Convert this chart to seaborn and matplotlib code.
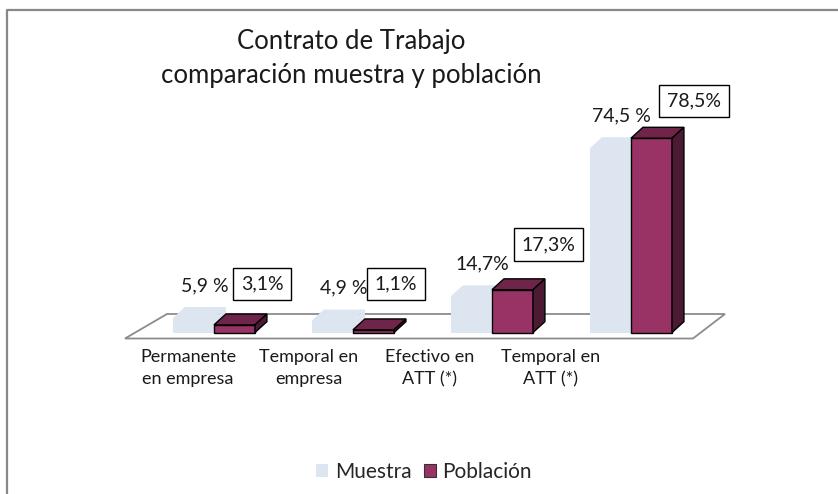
import matplotlib
matplotlib.use("Agg")
import matplotlib.pyplot as plt
import seaborn as sns
import pandas as pd
from matplotlib.patches import Polygon, Rectangle
from matplotlib.lines import Line2D

# datos
categorias = ["Permanente\nen empresa", "Temporal en\nempresa", "Efectivo en\nATT (*)", "Temporal en\nATT (*)"]
series = ["Muestra", "Población"]
muestra = [5.9, 4.9, 14.7, 74.5]
poblacion = [3.1, 1.1, 17.3, 78.5]
etiquetas_muestra = ["5,9 %", "4,9 %", "14,7%", "74,5 %"]
etiquetas_poblacion = ["3,1%", "1,1%", "17,3%", "78,5%"]

df = pd.DataFrame({
    "categoria": categorias * 2,
    "serie": [series[0]] * 4 + [series[1]] * 4,
    "valor": muestra + poblacion,
})

c_muestra = "#dde5f1"
c_pobl = "#993366"
c_pobl_top = "#6f2449"
c_pobl_side = "#4b1a33"

sns.set_style("white")
plt.rcParams["font.family"] = ["Lato", "DejaVu Sans"]

fig = plt.figure(figsize=(8.38, 4.94), dpi=100)
ax = fig.add_axes([0.1193, 0.313, 0.7637, 0.515])

sns.barplot(
    data=df, x="categoria", y="valor", hue="serie",
    order=categorias, hue_order=series,
    palette=[c_muestra, c_pobl], width=0.59,
    saturation=1, legend=False, ax=ax,
)

ax.set_xlim(-0.82, 3.784)
ax.set_ylim(-2.75, 100)

# efecto 3D
dx, dy = 0.086, 4.4
barras = list(ax.patches)
for i, p in enumerate(barras):
    x, w, h = p.get_x(), p.get_width(), p.get_height()
    top = [(x, h), (x + w, h), (x + w + dx, h + dy), (x + dx, h + dy)]
    side = [(x + w, 0), (x + w + dx, dy), (x + w + dx, h + dy), (x + w, h)]
    if i < 4:
        p.set_zorder(2)
        p.set_edgecolor("none")
        ax.add_patch(Polygon(top, closed=True, fc=c_muestra, ec="none", zorder=2))
        ax.add_patch(Polygon(side, closed=True, fc=c_muestra, ec="none", zorder=2))
    else:
        p.set_zorder(3)
        p.set_edgecolor("black")
        p.set_linewidth(1)
        ax.add_patch(Polygon(top, closed=True, fc=c_pobl_top, ec="black", lw=1, zorder=3))
        ax.add_patch(Polygon(side, closed=True, fc=c_pobl_side, ec="black", lw=1, zorder=3))

# suelo
suelo = [(-0.64, -2.4), (3.446, -2.4), (3.676, 7.5), (-0.338, 7.5)]
ax.add_patch(Polygon(suelo, closed=True, fc="white", ec="#8c8c8c", lw=1.3, zorder=1, clip_on=False))

# etiquetas
desplaz_x = [0.2, 0.16, 0.26, 0.306]
desplaz_y = [16.6, 18.6, 18.2, 15.0]
for i in range(4):
    pm = barras[i]
    ax.text(pm.get_x() + pm.get_width() / 2 + 0.08, muestra[i] + 13, etiquetas_muestra[i],
            ha="center", va="center", fontsize=14, color="#1a1a1a", zorder=5)
    pp = barras[i + 4]
    ax.text(pp.get_x() + pp.get_width() / 2 + desplaz_x[i], poblacion[i] + desplaz_y[i],
            etiquetas_poblacion[i], ha="center", va="center", fontsize=14, color="#1a1a1a", zorder=5,
            bbox=dict(boxstyle="square,pad=0.4", fc="white", ec="black", lw=1))

ax.set_xticks([-0.187 + 0.870 * i for i in range(4)])
ax.set_xticklabels(categorias, fontsize=13, linespacing=1.45, color="#1a1a1a")
ax.tick_params(axis="x", length=0, pad=7)
ax.set_yticks([])
ax.set_xlabel("")
ax.set_ylabel("")
sns.despine(ax=ax, left=True, bottom=True)

fig.text(351 / 838, 1 - 58.5 / 494, "Contrato de Trabajo\ncomparación muestra y población",
         ha="center", va="center", fontsize=18.5, linespacing=1.47, color="#1a1a1a")

handles = [Rectangle((0, 0), 1, 1, fc=c_muestra, ec="none"),
           Rectangle((0, 0), 1, 1, fc=c_pobl, ec="#333333", lw=0.8)]
fig.legend(handles, series, loc="center", bbox_to_anchor=(0.506, 1 - 472 / 494), ncol=2,
           frameon=False, fontsize=15, handlelength=0.6, handleheight=0.6,
           handletextpad=0.3, columnspacing=0.6)

# borde exterior
fig.add_artist(Line2D([7 / 838, 7 / 838, 1.0], [0.0, 1 - 10 / 494, 1 - 10 / 494],
                      transform=fig.transFigure, color="#888888", lw=1.6))

fig.savefig("out.png", dpi=100)
